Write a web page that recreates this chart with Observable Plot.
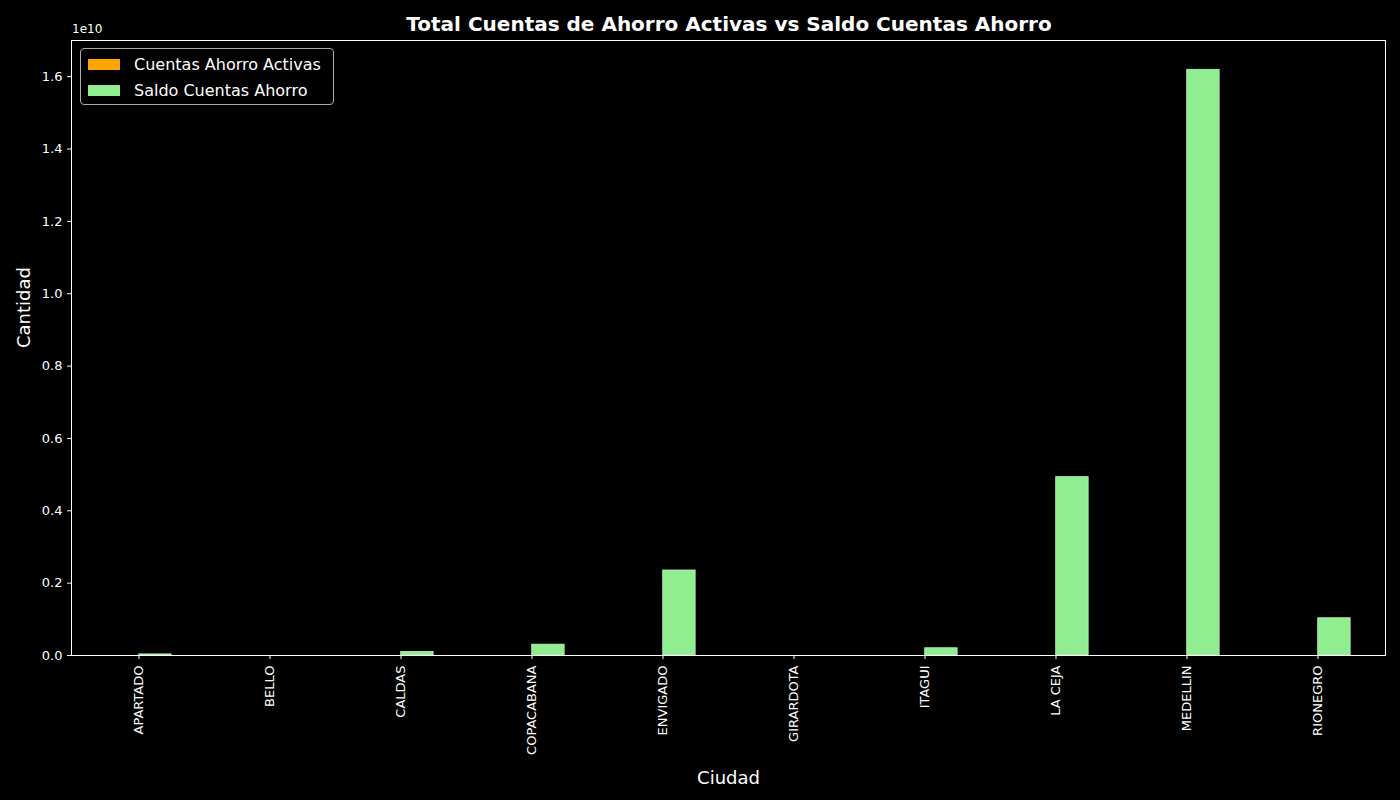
<!DOCTYPE html>
<html>
<head>
<meta charset="utf-8">
<script src="https://cdn.jsdelivr.net/npm/d3@7"></script>
<script src="https://cdn.jsdelivr.net/npm/@observablehq/plot@0.6"></script>
<style>
  body { margin: 0; background: #000; font-family: "DejaVu Sans", sans-serif; color: #fff; }
  #wrap { position: relative; width: 1400px; height: 800px; }
  #title { height: 30px; line-height: 48px; text-align: center; font-size: 20px; font-weight: bold; padding-left: 58px; }
  #exp { position: absolute; left: 72px; top: 22px; font-size: 12px; }
  #legend { position: absolute; left: 80px; top: 48px; width: 252px; height: 55px; border: 1px solid #aaa; border-radius: 4px; background: #000; font-size: 16px; }
  .item { display: flex; align-items: center; height: 26px; padding-left: 7px; }
  .sw { width: 32px; height: 11px; margin-right: 14px; }
</style>
</head>
<body>
<div id="wrap">
  <div id="title">Total Cuentas de Ahorro Activas vs Saldo Cuentas Ahorro</div>
  <div id="chart"></div>
  <div id="exp">1e10</div>
  <div id="legend"></div>
</div>
<script>
const cities = ["APARTADO", "BELLO", "CALDAS", "COPACABANA", "ENVIGADO", "GIRARDOTA", "ITAGUI", "LA CEJA", "MEDELLIN", "RIONEGRO"];
const cuentasActivas = [120, 5, 60, 150, 900, 3, 80, 1500, 4200, 400];
const saldoCuentas = [3e7, 0, 1e8, 3e8, 2.35e9, 0, 2e8, 4.93e9, 1.619e10, 1.03e9];
const seriesNames = ["Cuentas Ahorro Activas", "Saldo Cuentas Ahorro"];
const seriesColors = ["#ffa500", "#90ee90"];

const width = 1400, height = 770, mL = 71, mR = 15;
const band = (width - mL - mR) / cities.length;

const rowsA = cities.map((c, i) => ({city: c, value: cuentasActivas[i]}));
const rowsS = cities.map((c, i) => ({city: c, value: saldoCuentas[i]}));

const chart = Plot.plot({
  width, height,
  marginLeft: mL, marginRight: mR, marginTop: 10, marginBottom: 145,
  style: {background: "#000", color: "#fff", fontSize: "13px", fontFamily: "DejaVu Sans, sans-serif"},
  x: {domain: cities, padding: 0, label: null, tickRotate: -90, tickSize: 4, tickPadding: 6},
  y: {domain: [0, 1.7e10], ticks: d3.range(0, 1.7e10, 0.2e10), tickFormat: d => (d / 1e10).toFixed(1), label: null, tickSize: 4},
  marks: [
    Plot.barY(rowsA, {x: "city", y: "value", fill: seriesColors[0], insetLeft: band * 0.25, insetRight: band * 0.5}),
    Plot.barY(rowsS, {x: "city", y: "value", fill: seriesColors[1], stroke: "#b8f5b8", strokeWidth: 0.8, insetLeft: band * 0.5, insetRight: band * 0.25}),
    Plot.frame({stroke: "#fff"}),
    Plot.text(["Ciudad"], {frameAnchor: "bottom", dy: 128, fontSize: 18, fill: "#fff"}),
    Plot.text(["Cantidad"], {frameAnchor: "left", dx: -47, rotate: -90, fontSize: 18, fill: "#fff"})
  ]
});
document.getElementById("chart").append(chart);

const lg = d3.select("#legend");
seriesNames.forEach((n, i) => {
  const it = lg.append("div").attr("class", "item").style("margin-top", i === 0 ? "2px" : "0");
  it.append("div").attr("class", "sw").style("background", seriesColors[i]);
  it.append("span").text(n);
});
</script>
</body>
</html>
